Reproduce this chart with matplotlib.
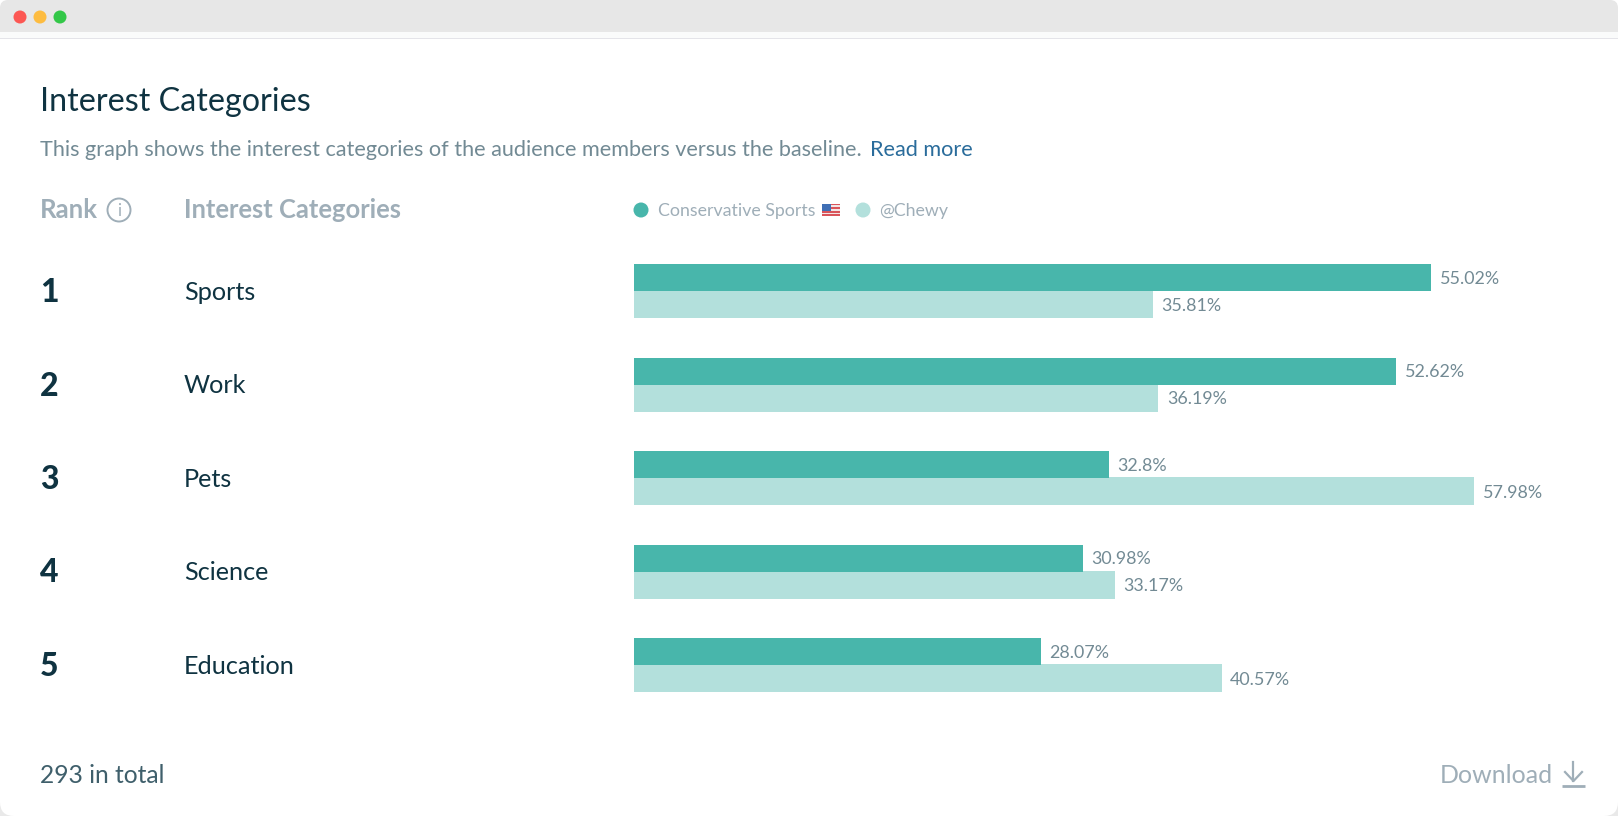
"""Interest Categories - audience comparison card"""
import matplotlib
matplotlib.use("Agg")
import matplotlib.pyplot as plt
from matplotlib.patches import Circle, FancyBboxPatch, Rectangle

W, H = 1618, 816

categories = ["Sports", "Work", "Pets", "Science", "Education"]
ranks = ["1", "2", "3", "4", "5"]
conservative = [55.02, 52.62, 32.8, 30.98, 28.07]
chewy = [35.81, 36.19, 57.98, 33.17, 40.57]
series_names = ["Conservative Sports", "@Chewy"]

TEAL = "#48B6AB"
LIGHT = "#B3E0DC"
DARK = "#0F3341"
GRAY = "#9FAEB8"
SUB = "#728A94"

plt.rcParams["font.family"] = ["Lato", "DejaVu Sans"]

fig = plt.figure(figsize=(W / 100, H / 100), dpi=100, facecolor="white")

# pixel canvas for the card, same coordinates as the screenshot
bg = fig.add_axes([0, 0, 1, 1], zorder=0)
bg.set_xlim(0, W)
bg.set_ylim(H, 0)
bg.axis("off")

bg.add_patch(Rectangle((0, 760), W, 56, fc="#E9E9E9", ec="none"))
bg.add_patch(FancyBboxPatch((0, 20), W, 796, boxstyle="round,pad=0,rounding_size=14",
                            fc="white", ec="none", mutation_aspect=1))
bg.add_patch(FancyBboxPatch((0, 0), W, 50, boxstyle="round,pad=0,rounding_size=8",
                            fc="#E7E7E7", ec="none"))
bg.add_patch(Rectangle((0, 32), W, 6, fc="#FAFBFB", ec="none"))
bg.add_patch(Rectangle((0, 38), W, 1, fc="#E4E4E9", ec="none"))
bg.add_patch(Rectangle((0, 39), W, 12, fc="white", ec="none"))
for cx, col in zip([20, 40, 60], ["#FC5753", "#FDBC40", "#33C748"]):
    bg.add_patch(Circle((cx, 17), 6.5, fc=col, ec="none"))


def txt(x, y, s, size, color, **kw):
    return bg.text(x, y, s, fontsize=size, color=color, va="baseline", **kw)


txt(40, 111, "Interest Categories", 23.2, DARK)
sub = "This graph shows the interest categories of the audience members versus the baseline."
txt(40, 156.5, sub, 15.55, SUB)
txt(870, 156.5, "Read more", 15.6, "#2A6C9B")

txt(40, 218.5, "Rank", 18.5, GRAY, fontweight="bold")
bg.add_patch(Circle((119, 210), 11.5, fc="none", ec=GRAY, lw=1.4))
bg.text(119, 211, "i", fontsize=12, color=GRAY, ha="center", va="center")
txt(184, 218.5, "Interest Categories", 18.4, GRAY, fontweight="bold")

# legend
bg.add_patch(Circle((641, 210), 7.5, fc=TEAL, ec="none"))
txt(658, 216, series_names[0], 12.8, GRAY)
bg.add_patch(Circle((863, 210), 7.5, fc=LIGHT, ec="none"))
txt(879, 216, series_names[1], 12.8, GRAY)
# flag emoji
for i in range(7):
    bg.add_patch(Rectangle((822, 203.5 + i * 1.8), 18, 1.8,
                           fc="#D9545A" if i % 2 == 0 else "#F3E4E4", ec="none"))
bg.add_patch(Rectangle((822, 203.5), 9, 7, fc="#3F6FB5", ec="none"))

# footer
txt(40, 783, "293 in total", 17.7, "#3F5F6B")
txt(1440, 783, "Download", 18, GRAY)
bg.plot([1562, 1585], [786, 786], color=GRAY, lw=2, solid_capstyle="butt")
bg.plot([1573.5, 1573.5], [762, 781], color=GRAY, lw=1.6)
bg.plot([1565, 1573.5, 1582], [772, 781, 772], color=GRAY, lw=1.6)

# bars: one category = 93.4 px, 14.49 px per percentage point
BAR_H = 27 / 93.4
OVERLAP = 0.01  # light bar runs under the teal one so no seam shows
x_max = (W - 634) / 14.49
top = 291.3 - 93.4 / 2
ax = fig.add_axes([634 / W, 1 - (top + 93.4 * 5) / H, (W - 634) / W, 93.4 * 5 / H], zorder=1)
ax.patch.set_alpha(0)
pos = list(range(len(categories)))
b2 = ax.barh([p + BAR_H / 2 - OVERLAP / 2 for p in pos], chewy, height=BAR_H + OVERLAP,
             color=LIGHT, antialiased=False)
b1 = ax.barh([p - BAR_H / 2 for p in pos], conservative, height=BAR_H, color=TEAL, antialiased=False)
ax.set_xlim(0, x_max)
ax.set_ylim(4.5, -0.5)
ax.axis("off")

# value labels sit a little under the bar centre
for p, v, w in zip(pos, conservative, chewy):
    ax.annotate(f"{v:g}%", (v, p - BAR_H / 2), xytext=(6, -0.8),
                textcoords="offset points", fontsize=12.9, color=SUB, va="center")
    ax.annotate(f"{w:g}%", (w, p + BAR_H / 2), xytext=(6, -0.8),
                textcoords="offset points", fontsize=12.9, color=SUB, va="center")

# row labels
for p, rank, name in zip(pos, ranks, categories):
    ax.annotate(rank, (0, p), xycoords=("figure fraction", "data"), xytext=(40 * 0.72, -1),
                textcoords="offset points", fontsize=23, fontweight="black", color=DARK, va="center")
    ax.annotate(name, (0, p), xycoords=("figure fraction", "data"), xytext=(184 * 0.72, -0.8),
                textcoords="offset points", fontsize=18.2, color=DARK, va="center")

fig.savefig("out.png", dpi=100)
